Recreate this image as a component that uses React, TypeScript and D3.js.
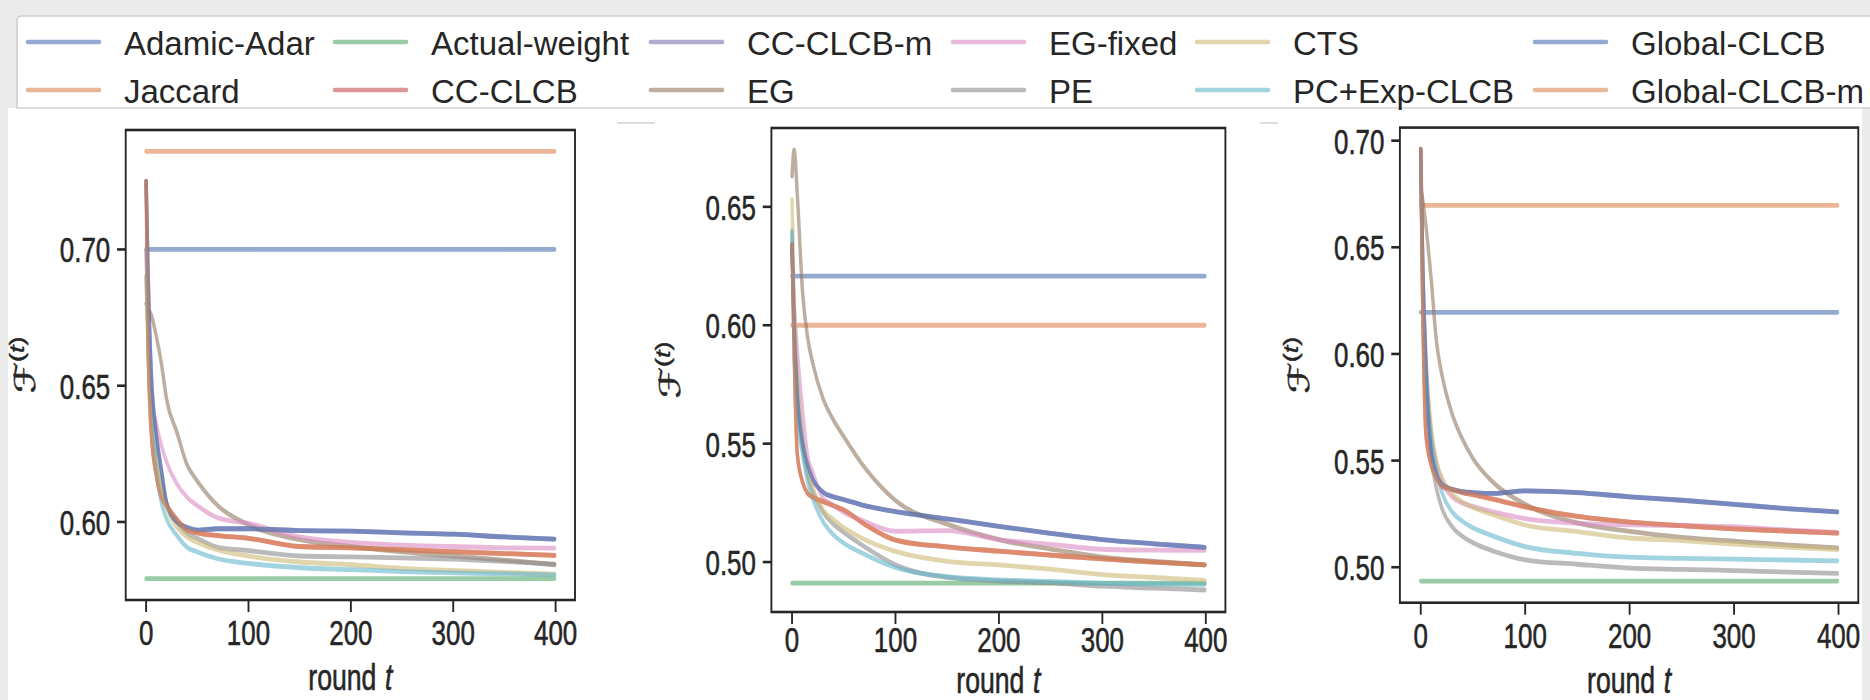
import React from 'react';
import * as d3 from 'd3';

// ---------- data ----------
const rounds = [0, 2, 5, 10, 15, 20, 30, 40, 50, 70, 100, 150, 200, 250, 300, 350, 399];
const tEnds = [0, 399];

const seriesNames = ['Adamic-Adar', 'Jaccard', 'Actual-weight', 'CC-CLCB', 'CC-CLCB-m', 'EG', 'EG-fixed', 'PE', 'CTS', 'PC+Exp-CLCB', 'Global-CLCB', 'Global-CLCB-m'];
const seriesColors = ['#4c72b0', '#dd8452', '#55a868', '#c44e52', '#8172b3', '#937860', '#da8bc3', '#8c8c8c', '#ccb974', '#64b5cd', '#4c72b0', '#dd8452'];

// panel 1
const p1AdamicAdar = 0.700;
const p1Jaccard = 0.736;
const p1ActualWeight = 0.5792;
const p1CcClcb = [0.725, 0.665, 0.633, 0.617, 0.609, 0.606, 0.601, 0.597, 0.596, 0.595, 0.594, 0.591, 0.5905, 0.5898, 0.5891, 0.5884, 0.5877];
const p1CcClcbM = [0.725, 0.690, 0.655, 0.632, 0.619, 0.607, 0.600, 0.598, 0.597, 0.5975, 0.5975, 0.5968, 0.5966, 0.596, 0.5955, 0.5945, 0.5937];
const p1Eg = [0.680, 0.678, 0.676, 0.668, 0.658, 0.645, 0.633, 0.621, 0.615, 0.606, 0.599, 0.5935, 0.591, 0.589, 0.5875, 0.586, 0.5843];
const p1EgFixed = [0.700, 0.670, 0.648, 0.636, 0.628, 0.622, 0.614, 0.609, 0.606, 0.6015, 0.5995, 0.5945, 0.5925, 0.5915, 0.591, 0.5905, 0.5904];
const p1Pe = [0.690, 0.665, 0.645, 0.625, 0.614, 0.607, 0.600, 0.5958, 0.594, 0.5907, 0.5895, 0.5875, 0.5872, 0.5868, 0.5864, 0.5855, 0.5845];
const p1Cts = [0.690, 0.660, 0.640, 0.622, 0.612, 0.605, 0.598, 0.5944, 0.5925, 0.5897, 0.5875, 0.5853, 0.5843, 0.583, 0.5822, 0.5815, 0.5808];
const p1PcExp = [0.700, 0.665, 0.640, 0.618, 0.607, 0.601, 0.595, 0.5907, 0.589, 0.5865, 0.5848, 0.5832, 0.5825, 0.5818, 0.5813, 0.581, 0.5806];
const p1GlobalClcb = p1CcClcbM;
const p1GlobalClcbM = p1CcClcb;

// panel 2
const p2AdamicAdar = 0.6207;
const p2Jaccard = 0.600;
const p2ActualWeight = 0.4911;
const p2CcClcb = [0.634, 0.590, 0.546, 0.534, 0.529, 0.5275, 0.5255, 0.5238, 0.522, 0.516, 0.5093, 0.5064, 0.5046, 0.5029, 0.5013, 0.500, 0.4988];
const p2CcClcbM = [0.634, 0.600, 0.572, 0.551, 0.541, 0.535, 0.5295, 0.5275, 0.5264, 0.5238, 0.5213, 0.5182, 0.5151, 0.5121, 0.5095, 0.5077, 0.5062];
const p2Eg = [0.663, 0.674, 0.656, 0.615, 0.595, 0.584, 0.569, 0.560, 0.553, 0.540, 0.526, 0.516, 0.5095, 0.5055, 0.5021, 0.5003, 0.4988];
const p2EgFixed = [0.630, 0.610, 0.590, 0.565, 0.545, 0.538, 0.527, 0.524, 0.521, 0.5172, 0.513, 0.5133, 0.5095, 0.5075, 0.5054, 0.505, 0.5049];
const p2Pe = [0.640, 0.600, 0.570, 0.548, 0.537, 0.5299, 0.521, 0.516, 0.5125, 0.5065, 0.4988, 0.4935, 0.492, 0.4912, 0.4898, 0.489, 0.4882];
const p2Cts = [0.653, 0.610, 0.580, 0.553, 0.540, 0.5316, 0.522, 0.518, 0.5145, 0.5095, 0.5045, 0.5003, 0.4988, 0.497, 0.4947, 0.4935, 0.4923];
const p2PcExp = [0.639, 0.590, 0.563, 0.546, 0.534, 0.5267, 0.517, 0.5115, 0.508, 0.5033, 0.4977, 0.4938, 0.4925, 0.4918, 0.491, 0.4907, 0.4906];
const p2GlobalClcb = p2CcClcbM;
const p2GlobalClcbM = p2CcClcb;

// panel 3
const p3AdamicAdar = 0.6195;
const p3Jaccard = 0.6697;
const p3ActualWeight = 0.4935;
const p3CcClcb = [0.696, 0.620, 0.562, 0.548, 0.542, 0.538, 0.5365, 0.535, 0.534, 0.5318, 0.5283, 0.5238, 0.5212, 0.5195, 0.518, 0.517, 0.516];
const p3CcClcbM = [0.696, 0.640, 0.595, 0.555, 0.544, 0.539, 0.5365, 0.5355, 0.535, 0.5346, 0.5358, 0.535, 0.533, 0.5314, 0.5295, 0.5275, 0.526];
const p3Eg = [0.678, 0.672, 0.660, 0.635, 0.606, 0.591, 0.572, 0.560, 0.551, 0.5395, 0.5295, 0.5208, 0.5168, 0.514, 0.5122, 0.5105, 0.5091];
const p3EgFixed = [0.690, 0.640, 0.600, 0.563, 0.549, 0.5405, 0.533, 0.530, 0.5285, 0.5258, 0.5228, 0.5206, 0.5199, 0.5195, 0.519, 0.5175, 0.5163];
const p3Pe = [0.690, 0.620, 0.580, 0.551, 0.537, 0.528, 0.519, 0.5145, 0.5115, 0.5075, 0.5035, 0.5014, 0.4996, 0.499, 0.4984, 0.4977, 0.4971];
const p3Cts = [0.690, 0.630, 0.595, 0.566, 0.550, 0.5425, 0.5345, 0.5305, 0.528, 0.5245, 0.5198, 0.5167, 0.5137, 0.5125, 0.5108, 0.5095, 0.5082];
const p3PcExp = [0.690, 0.630, 0.590, 0.5605, 0.545, 0.5355, 0.526, 0.5215, 0.5185, 0.5145, 0.5097, 0.5065, 0.5047, 0.5042, 0.5038, 0.5034, 0.503];
const p3GlobalClcb = p3CcClcbM;
const p3GlobalClcbM = p3CcClcb;

const xTicks = [0, 100, 200, 300, 400];
const p1YTicks = [0.60, 0.65, 0.70];
const p2YTicks = [0.50, 0.55, 0.60, 0.65];
const p3YTicks = [0.50, 0.55, 0.60, 0.65, 0.70];

type Pt = [number, number];
const zipT = (vals: number[]): Pt[] => vals.map((v, i) => [rounds[i], v]);
const flat = (v: number): Pt[] => tEnds.map((t) => [t, v]);

const panelSeries = (aa: number, jac: number, aw: number, cc: number[], ccm: number[], eg: number[], egf: number[], pe: number[], cts: number[], pc: number[], g: number[], gm: number[]): Pt[][] => [
  flat(aa), flat(jac), flat(aw), zipT(cc), zipT(ccm), zipT(eg), zipT(egf), zipT(pe), zipT(cts), zipT(pc), zipT(g), zipT(gm),
];

const panels = [
  { series: panelSeries(p1AdamicAdar, p1Jaccard, p1ActualWeight, p1CcClcb, p1CcClcbM, p1Eg, p1EgFixed, p1Pe, p1Cts, p1PcExp, p1GlobalClcb, p1GlobalClcbM), yTicks: p1YTicks },
  { series: panelSeries(p2AdamicAdar, p2Jaccard, p2ActualWeight, p2CcClcb, p2CcClcbM, p2Eg, p2EgFixed, p2Pe, p2Cts, p2PcExp, p2GlobalClcb, p2GlobalClcbM), yTicks: p2YTicks },
  { series: panelSeries(p3AdamicAdar, p3Jaccard, p3ActualWeight, p3CcClcb, p3CcClcbM, p3Eg, p3EgFixed, p3Pe, p3Cts, p3PcExp, p3GlobalClcb, p3GlobalClcbM), yTicks: p3YTicks },
];

// ---------- layout ----------
const panelBoxes = [
  { left: 125.7, right: 575, top: 130, bottom: 600 },
  { left: 771.4, right: 1225.4, top: 128, bottom: 612 },
  { left: 1399.9, right: 1858.3, top: 127.6, bottom: 602.7 },
];
const SQUEEZE = 0.72;
const FONT = '"Liberation Sans", Arial, Helvetica, sans-serif';
const INK = '#262626';
const TICK_FONT = 36;
const legendColX = [28, 335, 651, 953, 1197, 1535];
const legendRowY = [42, 90];

function Panel({ data, box }: { data: typeof panels[number]; box: typeof panelBoxes[number] }) {
  const k = SQUEEZE;
  const W = (box.right - box.left) / k;
  const H = box.bottom - box.top;
  const x = d3.scaleLinear().domain([-19.95, 418.95]).range([0, W]);
  const allV = data.series.flat().map((d) => d[1]);
  const [mn, mx] = d3.extent(allV) as [number, number];
  const pad = (mx - mn) * 0.05;
  const y = d3.scaleLinear().domain([mn - pad, mx + pad]).range([H, 0]);
  const line = d3.line<Pt>().x((d) => x(d[0])).y((d) => y(d[1])).curve(d3.curveMonotoneX);
  const tickLen = 12;
  const xLabelY = Math.min(H + 90, 693 - box.top);
  const xTickY = Math.min(H + 45, xLabelY - 41);
  return (
    <g transform={`translate(${box.left},${box.top}) scale(${k},1)`} fontFamily={FONT} fill={INK}>
      {data.series.map((s, i) => (
        <path key={i} d={line(s) || ''} fill="none" stroke={seriesColors[i]} strokeOpacity={0.6} strokeWidth={4.8} strokeLinecap="round" strokeLinejoin="round" />
      ))}
      <rect x={0} y={0} width={W} height={H} fill="none" stroke={INK} strokeWidth={2.6} />
      <g stroke={INK} strokeWidth={0.6}>
        {xTicks.map((t) => (
          <g key={t}>
            <line x1={x(t)} x2={x(t)} y1={H} y2={H + tickLen} strokeWidth={2.6} />
            <text x={x(t)} y={xTickY} textAnchor="middle" fontSize={TICK_FONT}>{t}</text>
          </g>
        ))}
        {data.yTicks.map((v) => (
          <g key={v}>
            <line x1={0} x2={-tickLen} y1={y(v)} y2={y(v)} strokeWidth={2.6} />
            <text x={-tickLen - 9.5} y={y(v) + 13} textAnchor="end" fontSize={TICK_FONT}>{v.toFixed(2)}</text>
          </g>
        ))}
        <text x={W / 2} y={xLabelY} textAnchor="middle" fontSize={37}>
          round<tspan fontStyle="italic" dx={12}>t</tspan>
        </text>
        <text transform={`translate(${-91 / k},${H / 2}) rotate(-90)`} textAnchor="middle" fontSize={40}>
          <tspan fontFamily="DejaVu Sans" fontStyle="italic">ℱ</tspan>
          <tspan fontSize={27} dy={-15}>(</tspan>
          <tspan fontSize={27} fontStyle="italic">t</tspan>
          <tspan fontSize={27}>)</tspan>
        </text>
      </g>
    </g>
  );
}

export default function App() {
  return (
    <svg width={1870} height={700} style={{ position: 'absolute', left: 0, top: 0, display: 'block' }}>
      <rect x={0} y={0} width={1870} height={700} fill="#ebebeb" />
      <rect x={8} y={108} width={1854} height={592} fill="#ffffff" />
      <path d="M17,108 L17,21 Q17,16 22,16 L1875,16 L1875,108 Z" fill="#ffffff" stroke="#cfcfcf" strokeWidth={1.6} />
      <rect x={8} y={108.8} width={1854} height={10} fill="#ffffff" />
      <line x1={617} x2={655} y1={123} y2={123} stroke="#dddddd" strokeWidth={2} />
      <line x1={1260} x2={1278} y1={123} y2={123} stroke="#dddddd" strokeWidth={2} />
      <g fontFamily={FONT} fill={INK} fontSize={33}>
        {seriesNames.map((name, i) => {
          const cx = legendColX[Math.floor(i / 2)];
          const cy = legendRowY[i % 2];
          return (
            <g key={name}>
              <line x1={cx} x2={cx + 71} y1={cy} y2={cy} stroke={seriesColors[i]} strokeOpacity={0.6} strokeWidth={4.6} strokeLinecap="round" />
              <text x={cx + 96} y={cy + 13}>{name}</text>
            </g>
          );
        })}
      </g>
      {panels.map((p, i) => (
        <Panel key={i} data={p} box={panelBoxes[i]} />
      ))}
    </svg>
  );
}
